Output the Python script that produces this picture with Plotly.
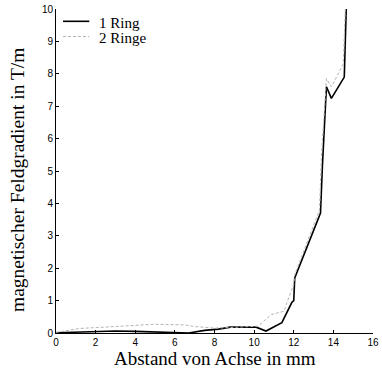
import plotly.graph_objects as go

x1 = [0, 1.2, 3, 4, 5, 6.7, 7.5, 8.2, 8.8, 10.1, 10.6, 11.4, 11.9, 12.0, 12.05, 12.7, 13.35, 13.45, 13.65, 13.9, 14.55, 14.65]
y1 = [0.01, 0.03, 0.06, 0.05, 0.03, 0.0, 0.08, 0.12, 0.18, 0.18, 0.06, 0.32, 0.94, 1.0, 1.7, 2.67, 3.7, 5.2, 7.6, 7.24, 7.9, 10.0]
x2 = [0, 1.2, 3, 5, 6.5, 7, 8, 9, 10.2, 10.87, 11.5, 11.9, 12.0, 12.05, 12.6, 13.3, 13.4, 13.65, 13.9, 14.5, 14.6]
y2 = [0.02, 0.14, 0.2, 0.27, 0.25, 0.2, 0.15, 0.18, 0.21, 0.57, 0.67, 1.34, 1.5, 1.8, 2.7, 3.8, 5.5, 7.85, 7.6, 8.3, 10.0]
names = ["1 Ring", "2 Ringe"]
x_ticks = [0, 2, 4, 6, 8, 10, 12, 14, 16]
y_ticks = list(range(0, 11))

black_line = dict(color="black", width=1.6)
gray_line = dict(color="#b4b4b4", width=1, dash="3px,2px")

fig = go.Figure()
fig.add_trace(go.Scatter(x=x1, y=y1, mode="lines", name=names[0], line=black_line))
fig.add_trace(go.Scatter(x=x2, y=y2, mode="lines", name=names[1], line=gray_line))

axis_common = dict(showgrid=False, zeroline=False, showline=True, linecolor="black",
                   linewidth=1, ticks="inside", ticklen=3, tickcolor="black",
                   ticklabeloverflow="allow",
                   tickfont=dict(family="Liberation Sans", size=10, color="black"))
fig.update_xaxes(range=[0, 16], tickvals=x_ticks, **axis_common)
fig.update_yaxes(range=[0, 10], tickvals=y_ticks, **axis_common)

serif = "Liberation Serif"
annotations = [
    dict(text="Abstand von Achse in mm", xref="paper", yref="paper", x=0.5, y=-0.078,
         xanchor="center", yanchor="middle", showarrow=False,
         font=dict(family=serif, size=19, color="black")),
    dict(text="magnetischer Feldgradient in T/m", xref="paper", yref="paper", x=-0.121, y=0.471,
         xanchor="center", yanchor="middle", textangle=-90, showarrow=False,
         font=dict(family=serif, size=19.5, color="black")),
]
# compact legend (top-left, inside the plot)
leg_rows = [0.962, 0.915]
shapes = []
for name, row, ln in zip(names, leg_rows, [black_line, gray_line]):
    shapes.append(dict(type="line", xref="paper", yref="paper", x0=0.022, x1=0.105,
                       y0=row, y1=row, line=ln))
    annotations.append(dict(text=name, xref="paper", yref="paper", x=0.128, y=row - 0.004,
                            xanchor="left", yanchor="middle", showarrow=False,
                            font=dict(family=serif, size=15, color="black")))

fig.update_layout(
    width=382, height=372,
    margin=dict(l=56, r=3, t=9, b=39),
    paper_bgcolor="white", plot_bgcolor="white",
    showlegend=False,
    annotations=annotations, shapes=shapes,
)
fig.write_html("out.html")
